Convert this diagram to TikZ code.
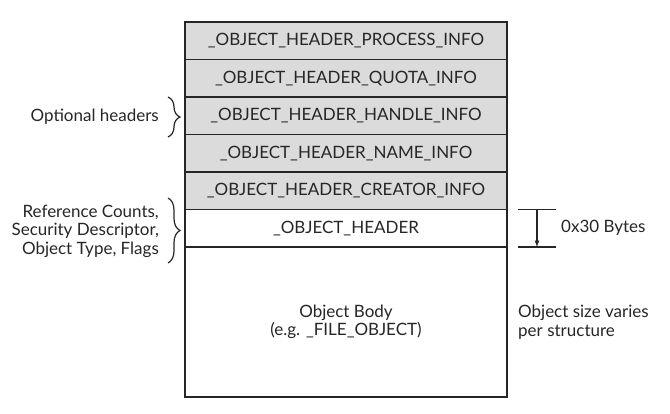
\documentclass[tikz,border=0pt]{standalone}
\usepackage{fontspec}
\setmainfont{Lato}
\definecolor{hdrgray}{rgb}{0.86,0.86,0.86}
\definecolor{inkgray}{rgb}{0.15,0.15,0.15}
\usetikzlibrary{arrows,positioning,decorations.pathreplacing}
\tikzset{
	row/.style={
		draw=inkgray, line width=1.2pt, rectangle, fill=hdrgray,
		minimum width=322pt, minimum height=37.5pt,
		inner sep=0pt, outer sep=0pt, text=inkgray,
		font=\fontsize{17}{18.5}\selectfont
	},
	plainrow/.style={row, fill=white},
	bodyrow/.style={row, fill=white, minimum height=150pt, align=center},
	side_brace/.style={decorate, decoration={brace, amplitude=12pt}, line width=1.2pt, inkgray},
	note/.style={text=inkgray, font=\fontsize{17}{18.5}\selectfont, inner sep=0pt},
	tick/.style={line width=1.2pt, inkgray},
	size_arrow/.style={-latex, line width=1.2pt, inkgray}
}
\begin{document}
\begin{tikzpicture}[x=1pt, y=1pt, node distance=0pt]
				\useasboundingbox (0,0) rectangle (670,-414);
				\node[row, anchor=north west] (process) at (185,-22) {\_OBJECT\_HEADER\_PROCESS\_INFO};
				\node[row]       (quota)   [below=of process] {\_OBJECT\_HEADER\_QUOTA\_INFO};
				\node[row]       (handle)  [below=of quota]   {\_OBJECT\_HEADER\_HANDLE\_INFO};
				\node[row]       (name)    [below=of handle]  {\_OBJECT\_HEADER\_NAME\_INFO};
				\node[row]       (creator) [below=of name]    {\_OBJECT\_HEADER\_CREATOR\_INFO};
				\node[plainrow]  (header)  [below=of creator] {\_OBJECT\_HEADER};
				\node[bodyrow]   (body)    [below=of header]  {Object Body\\(e.g. \_FILE\_OBJECT)};
				% braces on the left
				\coordinate (opt top) at (168,-97);
				\coordinate (opt bot) at (168,-137);
				\draw[side_brace] (opt top) -- (opt bot);
				\node[note, anchor=east] (optional) at (159,-117) {Optional headers};
				\coordinate (ref top) at (168,-198);
				\coordinate (ref bot) at (168,-263);
				\draw[side_brace] (ref top) -- (ref bot);
				\node[note, anchor=east, align=right] (refs) at (159,-231) {Reference Counts,\\Security Descriptor,\\Object Type, Flags};
				% size marks on the right
				\coordinate (mark top) at ([xshift=11pt]header.north east);
				\coordinate (mark bot) at ([xshift=11pt]header.south east);
				\draw[tick] (mark top) -- ++(38,0);
				\draw[tick] (mark bot) -- ++(38,0);
				\draw[size_arrow] ([xshift=19pt]mark top) -- ([xshift=19pt]mark bot);
				\node[note, anchor=west] (bytes) at ([xshift=54pt]header.east) {0x30 Bytes};
				\node[note, anchor=west, align=left] (varies) at ([xshift=11pt]body.east) {Object size varies\\per structure};
\end{tikzpicture}
\end{document}
